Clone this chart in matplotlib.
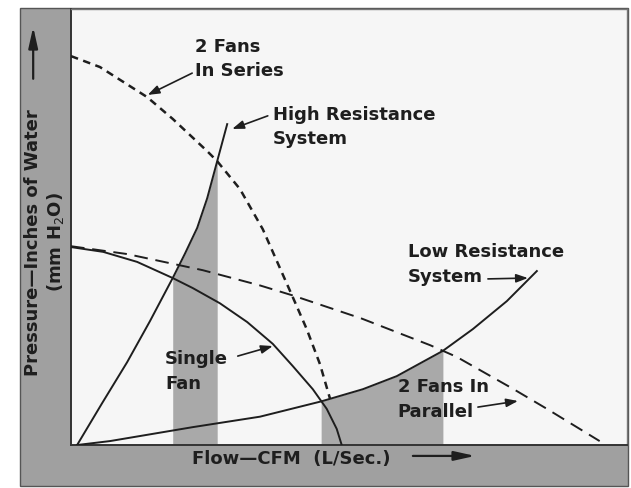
import matplotlib
matplotlib.use('Agg')
import matplotlib.pyplot as plt
from matplotlib.patches import Rectangle
import numpy as np

# Curve points (flow 0-100, pressure 0-100)
single_fan_x = [0.0, 5.8, 11.9, 18.3, 21.9, 26.8, 31.7, 36.3, 39.9, 43.5, 46.0, 47.8, 48.7]
single_fan_y = [45.4, 44.3, 42.0, 38.3, 36.0, 32.5, 28.2, 23.2, 18.1, 12.8, 8.3, 3.7, 0.0]

parallel_x = [0.0, 10.1, 23.7, 34.0, 39.9, 52.3, 64.6, 69.4, 79.5, 85.6, 95.1]
parallel_y = [45.6, 43.8, 40.1, 36.6, 34.3, 29.0, 22.9, 20.2, 12.9, 8.3, 0.9]

series_x = [0.0, 5.2, 13.7, 18.3, 24.5, 26.3, 30.4, 34.5, 39.9, 42.4, 44.8, 46.6]
series_y = [89.2, 86.7, 79.8, 74.8, 67.4, 65.1, 58.7, 49.5, 33.9, 26.6, 18.5, 10.6]

high_res_x = [1.1, 5.6, 10.1, 14.2, 18.3, 20.5, 22.7, 24.5, 26.3, 28.1]
high_res_y = [0.0, 9.6, 19.0, 28.4, 38.3, 43.9, 49.8, 56.6, 65.1, 73.6]

low_res_x = [1.1, 7.0, 21.9, 34.0, 45.0, 52.5, 58.6, 66.9, 72.3, 78.4, 83.8]
low_res_y = [0.0, 0.9, 4.1, 6.5, 10.0, 12.8, 15.8, 21.6, 26.6, 33.0, 39.9]

# shaded operating ranges
high_band = (18.3, 26.3)
low_band = (45.0, 66.9)

ink = '#1e1e1e'
band_gray = '#a0a0a0'
fill_gray = '#a9a9a9'

fig = plt.figure(figsize=(6.31, 4.89), dpi=100)
fig.patch.set_facecolor('white')

# gray frame behind the plot
fig.patches.append(Rectangle((0.0317, 0.0041), 0.9635, 0.9775, transform=fig.transFigure,
                             facecolor=band_gray, edgecolor='#555555', linewidth=1.0, zorder=-10))

ax = fig.add_axes([0.1125, 0.0879, 0.881, 0.8916])
ax.set_facecolor('#f6f6f6')
ax.set_xlim(0, 100)
ax.set_ylim(0, 100)
ax.set_xticks([])
ax.set_yticks([])
for side in ['left', 'bottom']:
    ax.spines[side].set_color('#333333')
    ax.spines[side].set_linewidth(1.4)
for side in ['top', 'right']:
    ax.spines[side].set_color('#777777')
    ax.spines[side].set_linewidth(1.0)

hx = np.array(high_res_x)
hy = np.array(high_res_y)
lx = np.array(low_res_x)
ly = np.array(low_res_y)
ax.fill_between(hx, 0, hy, where=(hx >= high_band[0]) & (hx <= high_band[1]),
                color=fill_gray, linewidth=0, zorder=1)
ax.fill_between(lx, 0, ly, where=(lx >= low_band[0]) & (lx <= low_band[1]),
                color=fill_gray, linewidth=0, zorder=1)

ax.plot(single_fan_x, single_fan_y, color=ink, lw=1.4, zorder=3)
ax.plot(high_res_x, high_res_y, color=ink, lw=1.4, zorder=3)
ax.plot(low_res_x, low_res_y, color=ink, lw=1.4, zorder=3)
ax.plot(parallel_x, parallel_y, color=ink, lw=1.4, dashes=(7, 4), zorder=3)
ax.plot(series_x, series_y, color=ink, lw=1.8, dashes=(3, 2.2), zorder=3)

font = dict(family='DejaVu Sans', fontsize=13, fontweight='bold', color=ink)
arrow = dict(arrowstyle='-|>,head_length=0.5,head_width=0.18', color=ink, lw=1.2,
             shrinkA=0, shrinkB=0, mutation_scale=14)

labels = [
    ('2 Fans\nIn Series', (22.3, 88.8), (21.8, 85.3), (13.8, 80.3)),
    ('High Resistance\nSystem', (36.3, 73.1), (35.4, 75.5), (29.0, 72.5)),
    ('Low Resistance\nSystem', (60.6, 41.6), (75.0, 38.1), (82.2, 38.3)),
    ('Single\nFan', (16.9, 17.1), (30.0, 20.4), (36.3, 22.7)),
    ('2 Fans In\nParallel', (58.8, 10.7), (73.2, 8.7), (80.4, 10.1)),
]
for text, pos, tail, tip in labels:
    ax.text(pos[0], pos[1], text, ha='left', va='center', linespacing=1.45, zorder=4, **font)
    ax.annotate('', xy=tip, xytext=tail, arrowprops=arrow, zorder=4)

# axis titles in the gray frame
big_arrow = dict(arrowstyle='-|>,head_length=0.9,head_width=0.2', color=ink, lw=1.6,
                 shrinkA=0, shrinkB=0, mutation_scale=14)
ax.text(21.8, -3.0, 'Flow\u2014CFM  (L/Sec.)', ha='left', va='center', clip_on=False, **font)
ax.annotate('', xy=(72.7, -2.5), xytext=(61.5, -2.5), arrowprops=big_arrow,
            annotation_clip=False)
ax.text(-6.8, 46.6, 'Pressure\u2014Inches of Water', rotation=90, ha='center', va='center',
        clip_on=False, **font)
ax.text(-2.7, 46.8, '(mm H$_2$O)', rotation=90, ha='center', va='center', clip_on=False, **font)
ax.annotate('', xy=(-6.8, 95.9), xytext=(-6.8, 84.0), arrowprops=big_arrow,
            annotation_clip=False)

plt.savefig('out.png', dpi=100)
plt.close()
